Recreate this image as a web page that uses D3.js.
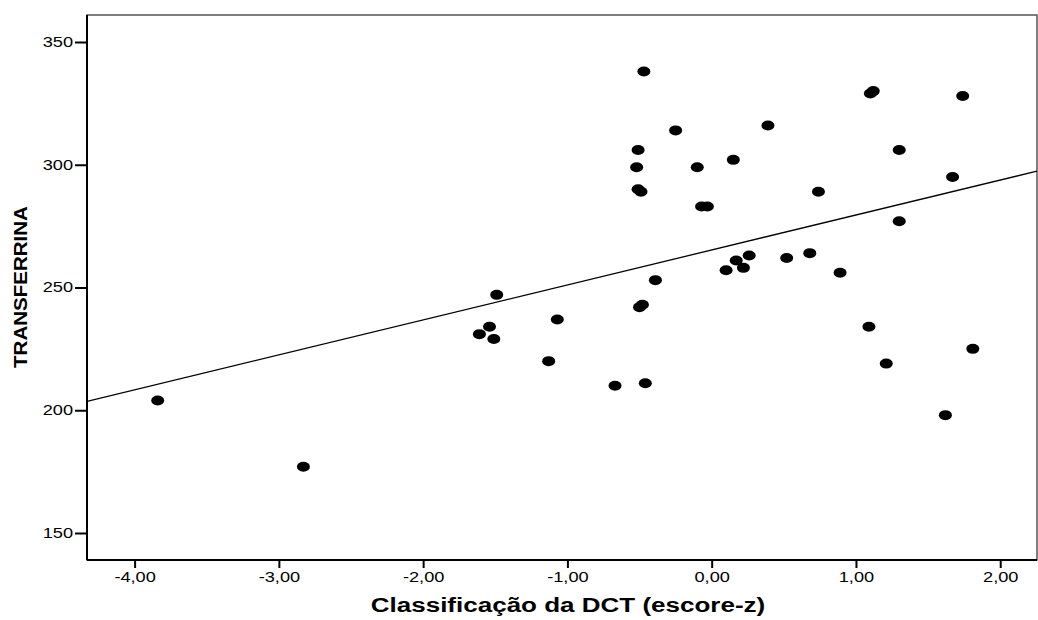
<!DOCTYPE html>
<html>
<head>
<meta charset="utf-8">
<script src="https://cdn.jsdelivr.net/npm/d3@7"></script>
<style>
  body { margin: 0; background: #fff; }
  svg text { font-family: "Liberation Sans", Arial, sans-serif; }
</style>
</head>
<body>
<div id="chart"></div>
<script>
"use strict"
// scatter of z-score vs transferrin, with a linear fit line
var width = 1038,
	height = 620;

var dctScore = [-3.84, -2.83, -1.61, -1.54, -1.51, -1.49, -1.13, -1.07, -0.67, -0.46,
	-0.50, -0.48, -0.39, 0.10, 0.17, 0.22, 0.26, 0.52, 0.68, 0.89,
	-0.47, -0.25, 0.39, -0.51, -0.52, -0.10, 0.15, -0.51, -0.49, -0.07,
	-0.03, 0.74, 1.10, 1.12, 1.74, 1.30, 1.67, 1.30, 1.09, 1.81,
	1.21, 1.62];
var transferrina = [204, 177, 231, 234, 229, 247, 220, 237, 210, 211,
	242, 243, 253, 257, 261, 258, 263, 262, 264, 256,
	338, 314, 316, 306, 299, 299, 302, 290, 289, 283,
	283, 289, 329, 330, 328, 306, 295, 277, 234, 225,
	219, 198];

var xTicks = [-4, -3, -2, -1, 0, 1, 2];
var yTicks = [150, 200, 250, 300, 350];

var margin = {left: 87, top: 15, right: 1, bottom: 60};

var x = d3.scaleLinear().domain([-4.33, 2.255]).range([margin.left, width - margin.right]);
var y = d3.scaleLinear().domain([139, 361]).range([height - margin.bottom, margin.top]);

var svg = d3.select("#chart").append("svg")
	.attr("width", width)
	.attr("height", height);

var fmt = function(d) { return d3.format(".2f")(d).replace(".", ",").replace("−", "-"); };

// the original picture is stretched sideways, so widen the glyphs too
function stretch(sel, k) {
	sel.each(function() {
		var len = this.getComputedTextLength();
		d3.select(this).attr("textLength", len * k).attr("lengthAdjust", "spacingAndGlyphs");
	});
}

// frame
svg.append("rect")
	.attr("x", x.range()[0])
	.attr("y", y.range()[1])
	.attr("width", x.range()[1] - x.range()[0])
	.attr("height", y.range()[0] - y.range()[1])
	.style("fill", "none")
	.style("stroke", "#555")
	.style("stroke-width", 1.5);

// least squares fit
var mx = d3.mean(dctScore), my = d3.mean(transferrina);
var sxy = d3.sum(dctScore, function(d, i) { return (d - mx) * (transferrina[i] - my); });
var sxx = d3.sum(dctScore, function(d) { return (d - mx) * (d - mx); });
var slope = sxy / sxx, icept = my - slope * mx;

svg.append("clipPath").attr("id", "clip").append("rect")
	.attr("x", x.range()[0]).attr("y", y.range()[1])
	.attr("width", x.range()[1] - x.range()[0])
	.attr("height", y.range()[0] - y.range()[1]);

svg.append("line")
	.attr("clip-path", "url(#clip)")
	.attr("x1", x(x.domain()[0])).attr("y1", y(icept + slope * x.domain()[0]))
	.attr("x2", x(x.domain()[1])).attr("y2", y(icept + slope * x.domain()[1]))
	.style("stroke", "#000")
	.style("stroke-width", 1.3);

svg.append("g").selectAll("ellipse")
	.data(dctScore)
	.join("ellipse")
	.attr("cx", function(d) { return x(d); })
	.attr("cy", function(d, i) { return y(transferrina[i]); })
	.attr("rx", 6.5)
	.attr("ry", 5)
	.style("fill", "#000");

// axes
var xAxis = svg.append("g")
	.attr("transform", "translate(0," + y.range()[0] + ")")
	.call(d3.axisBottom(x).tickValues(xTicks).tickFormat(fmt).tickSize(8).tickPadding(4));
var yAxis = svg.append("g")
	.attr("transform", "translate(" + x.range()[0] + ",0)")
	.call(d3.axisLeft(y).tickValues(yTicks).tickFormat(d3.format("d")).tickSize(12).tickPadding(2));

[xAxis, yAxis].forEach(function(g) {
	g.select(".domain").style("stroke", "#000").style("stroke-width", 2);
	g.selectAll(".tick line").style("stroke", "#000").style("stroke-width", 2);
	g.selectAll(".tick text")
		.style("font-size", "14px")
		.style("fill", "#000")
		.style("font-family", "'Liberation Sans', Arial, sans-serif")
		.call(stretch, 1.3);
});
yAxis.select(".domain").attr("d", "M0," + y.range()[0] + "V" + y.range()[1]);
xAxis.select(".domain").attr("d", "M" + x.range()[0] + ",0H" + x.range()[1]);

svg.append("text")
	.attr("x", 568)
	.attr("y", 612)
	.attr("text-anchor", "middle")
	.style("font-size", "20px")
	.style("font-weight", "bold")
	.text("Classificação da DCT (escore-z)")
	.call(stretch, 1.3);

svg.append("text")
	.attr("transform", "translate(27,287) rotate(-90)")
	.attr("text-anchor", "middle")
	.style("font-size", "19px")
	.style("font-weight", "bold")
	.text("TRANSFERRINA")
	.call(stretch, 1.08);
</script>
</body>
</html>
